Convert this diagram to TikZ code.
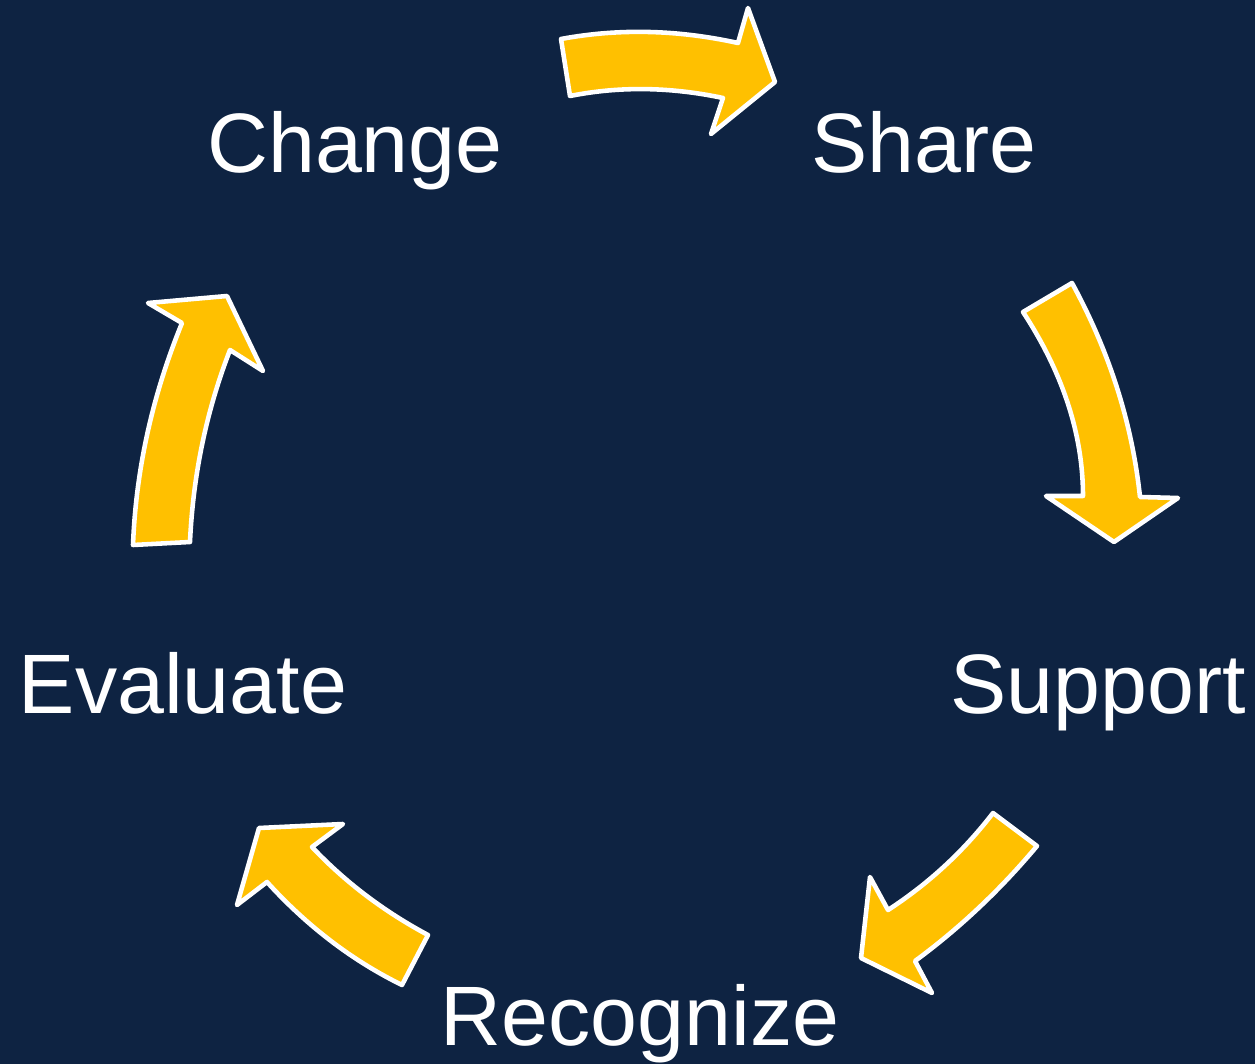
\documentclass[tikz,border=0pt]{standalone}
\usepackage{fontspec}
\setmainfont{Liberation Sans}
\definecolor{navy}{RGB}{14,35,66}
\definecolor{gold}{RGB}{255,192,0}

\begin{document}
\begin{tikzpicture}[x=0.02cm, y=-0.02cm,
	word/.style={text=white, font=\fontsize{48}{58}\selectfont, inner sep=0pt, anchor=base},
	cyclearrow/.style={fill=gold, draw=white, line width=2.6pt, line join=round}]
	\fill[navy] (0,0) rectangle (1255,1064);

	\node[word] (change)    at (355,173)  {Change};
	\node[word] (share)     at (924,173)  {Share};
	\node[word] (support)   at (1098,713) {Support};
	\node[word] (recognize) at (640,1045) {Recognize};
	\node[word] (evaluate)  at (183,713)  {Evaluate};

	% change -> share
	\draw[cyclearrow] (561,39) .. controls (620,28) and (679,30) .. (738,43) -- (748,8) -- (775,82) -- (711,134) -- (723,98) .. controls (671,87) and (620,86) .. (570,96) -- cycle;
	% share -> support
	\draw[cyclearrow] (1072,283) .. controls (1109,351) and (1132,422) .. (1140,497) -- (1178,498) -- (1114,542) -- (1046,496) -- (1083,496) .. controls (1083,435) and (1063,373) .. (1023,312) -- cycle;
	% support -> recognize
	\draw[cyclearrow] (1037,846) .. controls (1001,889) and (960,928) .. (915,961) -- (932,993) -- (861,958) -- (870,877) -- (888,910) .. controls (928,884) and (963,852) .. (993,813) -- cycle;
	% recognize -> evaluate
	\draw[cyclearrow] (428,935) .. controls (385,912) and (346,883) .. (312,847) -- (343,824) -- (259,828) -- (237,905) -- (267,882) .. controls (306,925) and (351,960) .. (402,985) -- cycle;
	% evaluate -> change
	\draw[cyclearrow] (190,542) .. controls (193,476) and (206,412) .. (230,350) -- (263,371) -- (227,296) -- (148,303) -- (182,323) .. controls (153,394) and (136,468) .. (133,545) -- cycle;
\end{tikzpicture}
\end{document}
